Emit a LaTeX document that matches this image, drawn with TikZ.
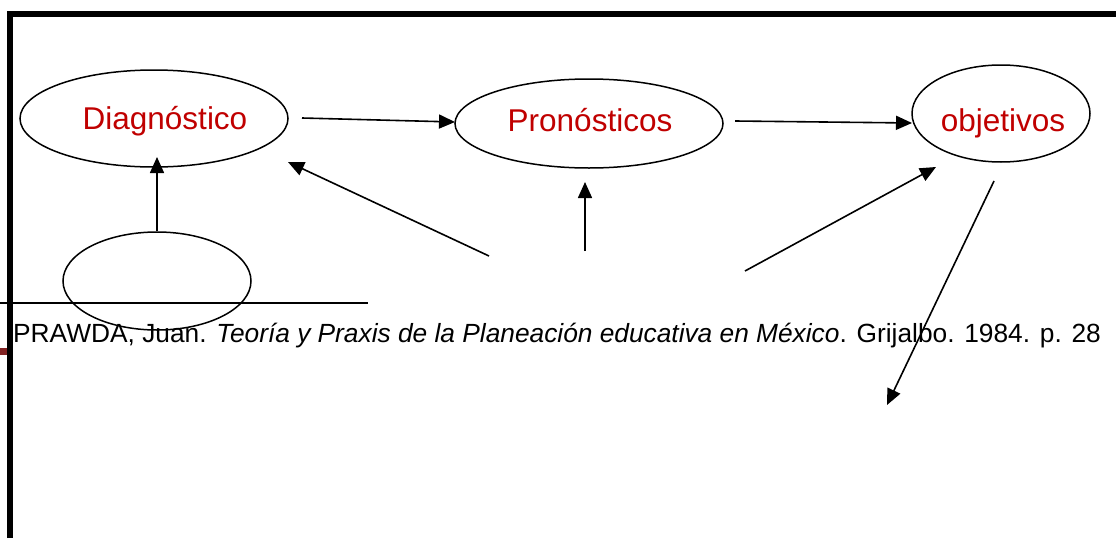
\documentclass[tikz,border=0pt]{standalone}
\usepackage{fontspec}
\setmainfont{Liberation Sans}
\usetikzlibrary{arrows.meta,shapes.geometric}
\definecolor{lblred}{RGB}{192,0,0}
\definecolor{markred}{RGB}{130,35,35}
\begin{document}
\begin{tikzpicture}[x=1pt,y=-1pt,
  oval/.style={draw,ellipse,line width=1.5pt,inner sep=0pt},
  lbl/.style={text=lblred,font=\fontsize{31.5}{36}\selectfont,anchor=base},
  arr/.style={line width=1.6pt,-{Triangle[length=16pt,width=14pt]}},
  frame/.style={line width=6pt}
  ]
\useasboundingbox (0,0) rectangle (1116,538);
% frame
\draw[frame] (10,538) -- (10,14) -- (1116,14);
\fill[markred] (0,348) rectangle (7,355);
% ellipses
\node[oval,minimum width=268pt,minimum height=97pt] (diag) at (154,118.5) {};
\node[oval,minimum width=268pt,minimum height=89pt] (pron) at (589,123.5) {};
\node[oval,minimum width=178pt,minimum height=97pt] (obj) at (1001,113.5) {};
\node[oval,minimum width=188pt,minimum height=98pt] (bot) at (157,281) {};
% labels
\node[lbl] (diagt) at (165,129) {Diagnóstico};
\node[lbl] (pront) at (590,131) {Pronósticos};
\node[lbl] (objt) at (1003,131) {objetivos};
% connector end points
\coordinate (a1s) at (302,118);
\coordinate (a1e) at (455,122);
\coordinate (a2s) at (735,121);
\coordinate (a2e) at (912,123);
\coordinate (a3e) at (157,157);
\coordinate (a4s) at (489,256);
\coordinate (a4e) at (288,162);
\coordinate (a5s) at (585,251);
\coordinate (a5e) at (585,182);
\coordinate (a6s) at (745,271);
\coordinate (a6e) at (936,167);
\coordinate (a7s) at (994,181);
\coordinate (a7e) at (887,405);
\draw[arr] (a1s) -- (a1e);
\draw[arr] (a2s) -- (a2e);
\draw[arr] (bot.north) -- (a3e);
\draw[arr] (a4s) -- (a4e);
\draw[arr] (a5s) -- (a5e);
\draw[arr] (a6s) -- (a6e);
\draw[arr] (a7s) -- (a7e);
% footnote rule and citation
\draw[line width=1.4pt] (0,303) -- (368,303);
\node[anchor=base west,inner sep=0pt,font=\fontsize{26.3}{31}\selectfont] (cite) at (13,342) {PRAWDA, Juan. \textit{Teoría y Praxis de la Planeación educativa en México}. Grijalbo. 1984. p. 28};
\end{tikzpicture}
\end{document}
